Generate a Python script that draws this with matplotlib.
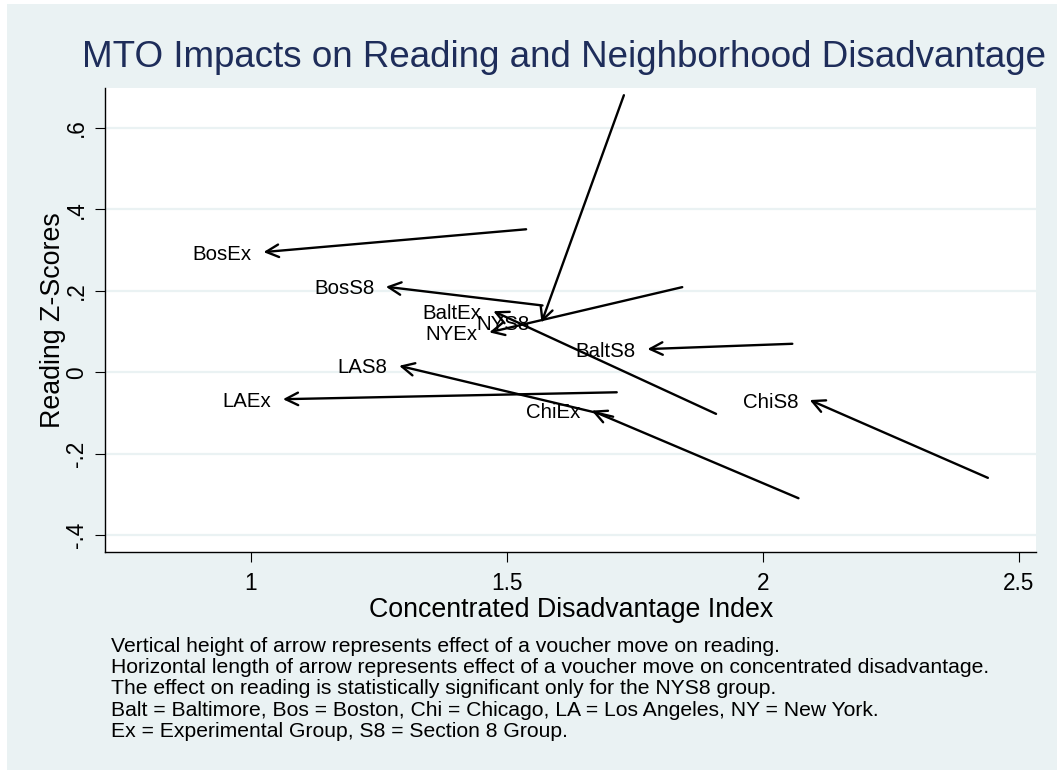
import matplotlib
matplotlib.use("Agg")
import matplotlib.pyplot as plt
from matplotlib.patches import Rectangle

plt.rcParams['font.family'] = ['Liberation Sans', 'DejaVu Sans']

# groups: arrow tail = control mean, head = voucher group
labels = ['BosEx', 'BosS8', 'NYS8', 'NYEx', 'BaltEx', 'BaltS8', 'ChiS8', 'ChiEx', 'LAS8', 'LAEx']
x_start = [1.538, 1.570, 1.729, 1.843, 1.909, 2.058, 2.440, 2.070, 1.708, 1.715]
y_start = [0.351, 0.164, 0.680, 0.209, -0.102, 0.070, -0.259, -0.309, -0.109, -0.049]
x_end = [1.025, 1.264, 1.568, 1.466, 1.474, 1.775, 2.092, 1.666, 1.290, 1.063]
y_end = [0.295, 0.210, 0.122, 0.098, 0.150, 0.057, -0.068, -0.094, 0.016, -0.066]

xticks = [1, 1.5, 2, 2.5]
xtick_labels = ['1', '1.5', '2', '2.5']
yticks = [-0.4, -0.2, 0, 0.2, 0.4, 0.6]
ytick_labels = ['-.4', '-.2', '0', '.2', '.4', '.6']

notes = [
    "Vertical height of arrow represents effect of a voucher move on reading.",
    "Horizontal length of arrow represents effect of a voucher move on concentrated disadvantage.",
    "The effect on reading is statistically significant only for the NYS8 group.",
    "Balt = Baltimore, Bos = Boston, Chi = Chicago, LA = Los Angeles, NY = New York.",
    "Ex = Experimental Group, S8 = Section 8 Group.",
]

bg = '#eaf2f3'
W, H = 1057, 770

fig = plt.figure(figsize=(W / 100, H / 100), dpi=100, facecolor='white')
fig.patches.append(Rectangle((7 / W, 0), 1, 1 - 4 / H, transform=fig.transFigure,
                             facecolor=bg, edgecolor='none', zorder=-10))

ax = fig.add_axes([105.3 / W, 1 - 552.3 / H, (1036 - 105.3) / W, (552.3 - 88) / H])
ax.set_facecolor('white')

for i in range(len(labels)):
    ax.annotate('', xy=(x_end[i], y_end[i]), xytext=(x_start[i], y_start[i]),
                arrowprops=dict(arrowstyle='->,head_length=0.6,head_width=0.3',
                                lw=1.7, color='black', shrinkA=0, shrinkB=0,
                                mutation_scale=15))
    ax.annotate(labels[i], xy=(x_end[i], y_end[i]), xytext=(-11.5, -7.5),
                textcoords='offset pixels', ha='right', va='baseline',
                fontsize=14.7, color='black')

ax.set_xlim(0.716, 2.534)
ax.set_ylim(-0.4417, 0.6977)
ax.set_xticks(xticks)
ax.set_xticklabels(xtick_labels)
ax.set_yticks(yticks)
ax.set_yticklabels(ytick_labels, rotation=90, va='center')
ax.grid(axis='y', color=bg, lw=1.6)
ax.set_axisbelow(True)
for s in ['top', 'right']:
    ax.spines[s].set_visible(False)
for s in ['left', 'bottom']:
    ax.spines[s].set_linewidth(1.0)
ax.tick_params(axis='both', length=7.5, width=0.8, labelsize=16.3)
ax.tick_params(axis='x', pad=7)
ax.tick_params(axis='y', pad=5)

ax.set_xlabel('Concentrated Disadvantage Index', fontsize=19.3, labelpad=1)
ax.set_ylabel('Reading Z-Scores', fontsize=19.3, labelpad=-1)

fig.text(82 / W, 1 - 66.7 / H, 'MTO Impacts on Reading and Neighborhood Disadvantage',
         fontsize=26.5, color='#1e2d5a', ha='left', va='baseline')

baselines = [651.5, 673.0, 694.5, 716.0, 737.0]
for line, yb in zip(notes, baselines):
    fig.text(111 / W, 1 - yb / H, line, fontsize=15.2, ha='left', va='baseline')

fig.savefig('out.png', dpi=100, facecolor=fig.get_facecolor())
